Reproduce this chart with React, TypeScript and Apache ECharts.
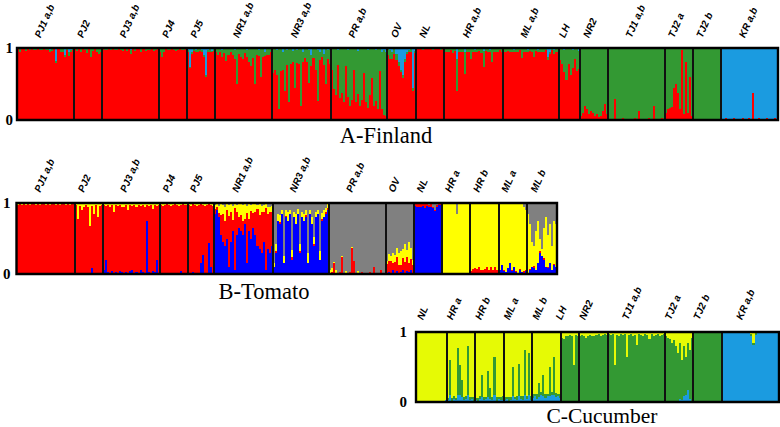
import React, { useEffect, useRef } from "react";
import * as echarts from "echarts";

// ---------- Panel A: Finland (clusters: 0 red, 1 green, 2 blue) ----------
const finlandGroups = ["PJ1 a,b", "PJ2", "PJ3 a,b", "PJ4", "PJ5", "NR1 a,b", "NR3 a,b", "PR a,b", "OV", "NL", "HR a,b", "ML a,b", "LH", "NR2", "TJ1 a,b", "TJ2 a", "TJ2 b", "KR a,b"];
const finlandSizes = [28, 14, 28, 14, 14, 28, 29, 28, 14, 14, 29, 28, 10, 14, 28, 14, 14, 28];
const finlandMain = [0, 0, 0, 0, 0, 0, 0, 0, 0, 0, 0, 0, 0, 1, 1, 1, 1, 2];
const finlandColors = ["#ff0000", "#339933", "#1b9be0"];
const finlandMix: [number, number, number[]][] = [
  [0, 1, [0.02, 0.03, 0.01, 0.02, 0.03, 0.02, 0.01, 0.02, 0.03, 0.02, 0.02, 0.01, 0.03, 0.02, 0.02, 0.03, 0.02, 0.04, 0.02, 0.03, 0.02, 0.03, 0.05, 0.02, 0.03, 0.06, 0.02, 0.03]],
  [0, 2, [0, 0.02, 0, 0, 0.01, 0, 0.02, 0, 0, 0.01, 0, 0.02, 0, 0, 0.01, 0, 0.03, 0, 0, 0.18, 0, 0.02, 0, 0.1, 0, 0.05, 0.03, 0]],
  [1, 1, [0.02, 0.03, 0.02, 0.04, 0.02, 0.03, 0.05, 0.02, 0.13, 0.03, 0.02, 0.04, 0.08, 0.03]],
  [1, 2, [0, 0.01, 0, 0.02, 0, 0, 0.02, 0, 0, 0.01, 0, 0.02, 0, 0.02]],
  [2, 1, [0.02, 0.02, 0.03, 0.02, 0.01, 0.02, 0.03, 0.02, 0.02, 0.03, 0.02, 0.02, 0.04, 0.02, 0.06, 0.02, 0.03, 0.02, 0.02, 0.03, 0.02, 0.04, 0.02, 0.03, 0.02, 0.02, 0.03, 0.02]],
  [2, 2, [0, 0.01, 0, 0, 0.02, 0, 0, 0.01, 0, 0, 0.02, 0, 0, 0, 0.03, 0, 0.01, 0, 0, 0.02, 0, 0, 0.01, 0, 0, 0.02, 0, 0]],
  [3, 1, [0.03, 0.12, 0.03, 0.02, 0.03, 0.02, 0.02, 0.03, 0.02, 0.03, 0.02, 0.02, 0.03, 0.02]],
  [3, 2, [0.02, 0, 0.02, 0, 0, 0.01, 0, 0, 0.02, 0, 0, 0.01, 0, 0]],
  [4, 1, [0.02, 0.02, 0.03, 0.02, 0.02, 0.03, 0.02, 0.02, 0.03, 0.02, 0.02, 0.03, 0.02, 0.02]],
  [4, 2, [0.03, 0.26, 0.05, 0.02, 0.03, 0.02, 0.02, 0.03, 0.1, 0.38, 0.03, 0.02, 0.04, 0.02]],
  [5, 1, [0.05, 0.08, 0.06, 0.1, 0.07, 0.18, 0.08, 0.06, 0.1, 0.12, 0.5, 0.08, 0.1, 0.15, 0.07, 0.1, 0.2, 0.25, 0.12, 0.5, 0.1, 0.08, 0.4, 0.12, 0.06, 0.1, 0.08, 0.05]],
  [5, 2, [0, 0.02, 0, 0.03, 0, 0, 0.02, 0, 0, 0.03, 0, 0, 0.02, 0, 0, 0.03, 0, 0, 0.02, 0, 0, 0.03, 0, 0, 0.05, 0, 0.02, 0]],
  [6, 1, [0.33, 0.3, 0.35, 0.85, 0.3, 0.25, 0.6, 0.2, 0.75, 0.2, 0.15, 0.55, 0.18, 0.2, 0.8, 0.15, 0.12, 0.2, 0.45, 0.15, 0.12, 0.3, 0.7, 0.12, 0.1, 0.15, 0.5, 0.12, 0.2]],
  [6, 2, [0.02, 0, 0.03, 0, 0.02, 0.05, 0, 0.03, 0, 0.02, 0.04, 0, 0.03, 0.02, 0, 0.05, 0.02, 0, 0.03, 0.1, 0.02, 0, 0.03, 0.05, 0.02, 0.08, 0, 0.03, 0.02]],
  [7, 1, [0.3, 0.55, 0.65, 0.2, 0.7, 0.6, 0.75, 0.25, 0.65, 0.8, 0.7, 0.3, 0.75, 0.6, 0.8, 0.7, 0.35, 0.75, 0.8, 0.65, 0.4, 0.8, 0.7, 0.85, 0.3, 0.8, 0.9, 0.88]],
  [7, 2, [0, 0.02, 0, 0.03, 0, 0.02, 0, 0, 0.03, 0, 0.02, 0, 0, 0.04, 0, 0.02, 0, 0, 0.03, 0, 0.02, 0, 0.03, 0, 0.02, 0.05, 0.03, 0.06]],
  [8, 1, [0.08, 0.12, 0.1, 0.06, 0.08, 0.05, 0.04, 0.03, 0.05, 0.03, 0.02, 0.03, 0.05, 0.03]],
  [8, 2, [0.02, 0.03, 0.05, 0.02, 0.08, 0.2, 0.3, 0.38, 0.15, 0.05, 0.03, 0.02, 0.55, 0.04]],
  [9, 1, [0.02, 0.01, 0.02, 0.03, 0.01, 0.02, 0.02, 0.01, 0.03, 0.02, 0.01, 0.02, 0.03, 0.02]],
  [10, 1, [0.05, 0.04, 0.06, 0.03, 0.05, 0.04, 0.45, 0.05, 0.04, 0.06, 0.3, 0.05, 0.04, 0.15, 0.05, 0.03, 0.06, 0.04, 0.05, 0.22, 0.04, 0.05, 0.03, 0.18, 0.05, 0.04, 0.06, 0.03, 0.04]],
  [10, 2, [0, 0.02, 0, 0, 0.02, 0, 0.15, 0, 0.02, 0, 0.06, 0, 0.02, 0, 0, 0.03, 0, 0, 0.02, 0.04, 0, 0, 0.03, 0.02, 0, 0.02, 0, 0, 0.02]],
  [11, 1, [0.04, 0.05, 0.03, 0.04, 0.06, 0.03, 0.05, 0.04, 0.03, 0.14, 0.04, 0.05, 0.03, 0.04, 0.06, 0.1, 0.04, 0.03, 0.05, 0.04, 0.06, 0.03, 0.05, 0.04, 0.03, 0.05, 0.04, 0.06]],
  [11, 2, [0.02, 0, 0.01, 0.02, 0, 0.03, 0, 0.02, 0, 0, 0.02, 0, 0.03, 0, 0, 0.02, 0, 0.03, 0, 0.02, 0, 0, 0.12, 0.05, 0, 0.03, 0.02, 0]],
  [12, 1, [0.15, 0.22, 0.3, 0.44, 0.2, 0.38, 0.25, 0.15, 0.3, 0.25]],
  [12, 2, [0.02, 0, 0.03, 0, 0.02, 0, 0.03, 0, 0.02, 0.04]],
  [13, 0, [0.05, 0.1, 0.2, 0.15, 0.08, 0.12, 0.1, 0.06, 0.08, 0.04, 0.06, 0.12, 0.22, 0.08]],
  [14, 0, [0.02, 0.02, 0.01, 0.29, 0.02, 0.01, 0.02, 0.03, 0.01, 0.02, 0.02, 0.01, 0.02, 0.03, 0.02, 0.13, 0.02, 0.01, 0.02, 0.02, 0.03, 0.01, 0.2, 0.02, 0.01, 0.02, 0.03, 0.02]],
  [15, 0, [0.1, 0.15, 0.17, 0.18, 0.45, 0.5, 0.38, 0.15, 0.97, 0.08, 0.8, 0.1, 0.6, 0.06]],
  [16, 0, [0.02, 0.01, 0.02, 0.01, 0.02, 0.01, 0.02, 0.01, 0.02, 0.01, 0.02, 0.02, 0.01, 0.02]],
  [17, 0, [0.02, 0.01, 0.03, 0.01, 0.02, 0.01, 0.03, 0.02, 0.01, 0.02, 0.03, 0.01, 0.02, 0.03, 0.01, 0.38, 0.02, 0.01, 0.03, 0.02, 0.01, 0.02, 0.03, 0.01, 0.02, 0.01, 0.03, 0.02]],
];

// ---------- Panel B: Tomato (clusters: 0 blue, 1 red, 2 yellow, 3 grey) ----------
const tomatoGroups = ["PJ1 a,b", "PJ2", "PJ3 a,b", "PJ4", "PJ5", "NR1 a,b", "NR3 a,b", "PR a,b", "OV", "NL", "HR a", "HR b", "ML a", "ML b"];
const tomatoSizes = [29, 14, 28, 14, 13, 29, 28, 28, 14, 14, 14, 14, 14, 15];
const tomatoMain = [1, 1, 1, 1, 1, 1, 3, 3, 3, 0, 2, 2, 2, 2];
const tomatoColors = ["#0000ff", "#ff0000", "#ffff00", "#808080"];
const tomatoMix: [number, number, number[]][] = [
  [0, 2, [0.03, 0.02, 0.03, 0.02, 0.03, 0.02, 0.03, 0.02, 0.02, 0.03, 0.02, 0.03, 0.02, 0.02, 0.03, 0.02, 0.03, 0.02, 0.02, 0.03, 0.02, 0.03, 0.02, 0.02, 0.03, 0.02, 0.03, 0.02, 0.02]],
  [0, 0, [0, 0.01, 0, 0, 0.01, 0, 0, 0, 0.01, 0, 0, 0, 0, 0.01, 0, 0, 0, 0.01, 0, 0, 0, 0, 0.01, 0, 0, 0, 0.01, 0, 0]],
  [1, 2, [0.03, 0.22, 0.04, 0.1, 0.05, 0.03, 0.06, 0.33, 0.04, 0.15, 0.03, 0.2, 0.04, 0.03]],
  [1, 0, [0, 0, 0, 0, 0, 0, 0, 0, 0.08, 0, 0, 0, 0, 0]],
  [2, 2, [0.03, 0.04, 0.03, 0.05, 0.03, 0.12, 0.03, 0.04, 0.03, 0.05, 0.06, 0.03, 0.1, 0.03, 0.04, 0.03, 0.05, 0.03, 0.04, 0.03, 0.05, 0.03, 0.04, 0.03, 0.08, 0.03, 0.04, 0.03]],
  [2, 0, [0.05, 0.2, 0.03, 0.02, 0.04, 0.02, 0.03, 0.02, 0.04, 0.03, 0.02, 0.03, 0.02, 0.04, 0.06, 0.02, 0.03, 0.02, 0.05, 0.03, 0.02, 0.74, 0.03, 0.02, 0.04, 0.03, 0.2, 0.02]],
  [3, 2, [0.03, 0.04, 0.03, 0.02, 0.03, 0.04, 0.03, 0.02, 0.03, 0.04, 0.03, 0.02, 0.03, 0.03]],
  [3, 0, [0, 0, 0, 0, 0, 0, 0, 0, 0, 0, 0.04, 0, 0, 0]],
  [4, 0, [0.02, 0, 0.03, 0, 0.02, 0, 0.15, 0.27, 0, 0.02, 0.43, 0.1, 0.02]],
  [4, 2, [0.03, 0.04, 0.02, 0.03, 0.04, 0.03, 0.02, 0.03, 0.04, 0.03, 0.02, 0.03, 0.04]],
  [5, 0, [0.85, 0.9, 0.8, 0.55, 0.45, 0.4, 0.5, 0.1, 0.45, 0.6, 0.05, 0.55, 0.65, 0.6, 0.55, 0.7, 0.15, 0.6, 0.5, 0.65, 0.55, 0.4, 0.35, 0.3, 0.45, 0.05, 0.35, 0.3, 0.4]],
  [5, 2, [0.05, 0.03, 0.1, 0.15, 0.12, 0.2, 0.08, 0.15, 0.1, 0.2, 0.05, 0.1, 0.18, 0.15, 0.22, 0.2, 0.1, 0.2, 0.08, 0.12, 0.1, 0.05, 0.15, 0.08, 0.1, 0.05, 0.1, 0.06, 0.08]],
  [5, 3, [0.03, 0.02, 0.04, 0.02, 0.03, 0.05, 0.02, 0.03, 0.02, 0.04, 0.02, 0.03, 0.02, 0.02, 0.03, 0.02, 0.04, 0.02, 0.03, 0.02, 0.02, 0.03, 0.02, 0.04, 0.03, 0.02, 0.05, 0.06, 0.04]],
  [6, 0, [0.1, 0.3, 0.75, 0.7, 0.85, 0.15, 0.8, 0.75, 0.85, 0.2, 0.8, 0.7, 0.85, 0.3, 0.8, 0.75, 0.8, 0.15, 0.85, 0.7, 0.4, 0.8, 0.85, 0.2, 0.75, 0.8, 0.85, 0.9]],
  [6, 2, [0.05, 0.1, 0.1, 0.1, 0.05, 0.1, 0.08, 0.12, 0.05, 0.1, 0.07, 0.15, 0.06, 0.1, 0.08, 0.1, 0.07, 0.15, 0.05, 0.1, 0.1, 0.08, 0.05, 0.12, 0.08, 0.1, 0.06, 0.05]],
  [6, 1, [0, 0.02, 0, 0.03, 0, 0, 0.02, 0, 0, 0.04, 0, 0, 0, 0.02, 0, 0, 0.03, 0, 0, 0, 0.02, 0, 0, 0, 0.03, 0, 0.02, 0.03]],
  [7, 1, [0, 0.03, 0.15, 0.02, 0, 0.03, 0.24, 0, 0.02, 0, 0.03, 0.36, 0.18, 0, 0.02, 0, 0.03, 0, 0.02, 0, 0.03, 0, 0.1, 0, 0.02, 0.06, 0, 0.02]],
  [7, 2, [0.06, 0.05, 0.02, 0.04, 0.02, 0, 0.02, 0, 0.02, 0, 0, 0.02, 0, 0, 0.02, 0, 0, 0.02, 0, 0, 0, 0.02, 0, 0, 0, 0, 0.02, 0]],
  [8, 1, [0.12, 0.15, 0.18, 0.1, 0.15, 0.2, 0.12, 0.1, 0.18, 0.15, 0.2, 0.12, 0.15, 0.1]],
  [8, 2, [0.05, 0.1, 0.08, 0.15, 0.1, 0.12, 0.18, 0.2, 0.12, 0.25, 0.1, 0.3, 0.15, 0.08]],
  [8, 0, [0.02, 0.03, 0, 0.05, 0.02, 0.04, 0, 0.03, 0.05, 0.02, 0.04, 0.03, 0.06, 0.02]],
  [9, 1, [0.03, 0.05, 0.04, 0.06, 0.03, 0.05, 0.04, 0.02, 0.03, 0.02, 0.01, 0.02, 0.01, 0.02]],
  [9, 3, [0.01, 0, 0.02, 0, 0.01, 0.02, 0, 0.03, 0.02, 0.05, 0.1, 0.03, 0.02, 0.01]],
  [10, 3, [0, 0.02, 0, 0, 0, 0, 0, 0.16, 0, 0, 0.02, 0, 0, 0]],
  [10, 1, [0.01, 0, 0.01, 0, 0.01, 0, 0.01, 0, 0.01, 0, 0.01, 0, 0.01, 0]],
  [11, 1, [0.04, 0.06, 0.08, 0.05, 0.1, 0.06, 0.04, 0.07, 0.09, 0.05, 0.08, 0.06, 0.1, 0.04]],
  [11, 0, [0, 0.01, 0, 0.02, 0, 0, 0.02, 0, 0.01, 0, 0.02, 0, 0, 0.01]],
  [12, 0, [0.05, 0.13, 0.04, 0.03, 0.08, 0.15, 0.04, 0.1, 0.03, 0.02, 0.06, 0.03, 0.02, 0.04]],
  [12, 1, [0.01, 0, 0.02, 0, 0.01, 0, 0.02, 0, 0.01, 0, 0.01, 0, 0.02, 0.01]],
  [12, 3, [0, 0, 0, 0, 0, 0, 0, 0, 0, 0, 0, 0.02, 0.05, 0.1]],
  [13, 3, [0.15, 0.3, 0.55, 0.6, 0.4, 0.25, 0.5, 0.65, 0.35, 0.2, 0.45, 0.3, 0.6, 0.25, 0.3]],
  [13, 0, [0.02, 0.05, 0.1, 0.08, 0.05, 0.15, 0.3, 0.25, 0.2, 0.1, 0.08, 0.15, 0.05, 0.12, 0.1]],
  [13, 1, [0, 0.02, 0, 0.03, 0, 0, 0.02, 0, 0.03, 0, 0.02, 0, 0, 0.02, 0]],
];

// ---------- Panel C: Cucumber (clusters: 0 blue, 1 green, 2 yellow) ----------
const cucumberGroups = ["NL", "HR a", "HR b", "ML a", "ML b", "LH", "NR2", "TJ1 a,b", "TJ2 a", "TJ2 b", "KR a,b"];
const cucumberSizes = [15, 14, 14, 14, 14, 9, 14, 28, 14, 14, 28];
const cucumberMain = [2, 2, 2, 2, 2, 1, 1, 1, 1, 1, 0];
const cucumberColors = ["#1b9be0", "#339933", "#e6fa05"];
const cucumberMix: [number, number, number[]][] = [
  [0, 0, [0.02, 0.01, 0.02, 0.01, 0.02, 0.01, 0.02, 0.01, 0.01, 0.02, 0.01, 0.02, 0.01, 0.02, 0.03]],
  [1, 1, [0.03, 0.5, 0.04, 0.05, 0.03, 0.67, 0.43, 0.25, 0.04, 0.05, 0.7, 0.04, 0.03, 0.05]],
  [1, 0, [0.03, 0.1, 0.02, 0.04, 0.03, 0.1, 0.1, 0.07, 0.03, 0.04, 0.1, 0.03, 0.04, 0.02]],
  [2, 1, [0.03, 0.04, 0.05, 0.32, 0.04, 0.03, 0.37, 0.15, 0.04, 0.55, 0.05, 0.03, 0.04, 0.05]],
  [2, 0, [0.03, 0.02, 0.04, 0.07, 0.03, 0.04, 0.07, 0.05, 0.03, 0.1, 0.02, 0.04, 0.03, 0.03]],
  [3, 1, [0.04, 0.03, 0.05, 0.04, 0.42, 0.03, 0.05, 0.47, 0.04, 0.05, 0.64, 0.04, 0.6, 0.05]],
  [3, 0, [0.03, 0.04, 0.02, 0.03, 0.08, 0.04, 0.03, 0.08, 0.05, 0.03, 0.1, 0.04, 0.1, 0.03]],
  [4, 1, [0.05, 0.04, 0.06, 0.2, 0.05, 0.3, 0.06, 0.04, 0.42, 0.05, 0.55, 0.06, 0.04, 0.05]],
  [4, 0, [0.06, 0.08, 0.05, 0.07, 0.1, 0.09, 0.06, 0.08, 0.08, 0.1, 0.1, 0.07, 0.08, 0.06]],
  [5, 2, [0.08, 0.1, 0.06, 0.05, 0.04, 0.05, 0.47, 0.04, 0.05]],
  [6, 2, [0.05, 0.04, 0.06, 0.09, 0.05, 0.04, 0.06, 0.05, 0.04, 0.03, 0.05, 0.04, 0.03, 0.04]],
  [7, 2, [0.03, 0.04, 0.03, 0.47, 0.04, 0.05, 0.03, 0.04, 0.03, 0.35, 0.04, 0.03, 0.05, 0.04, 0.18, 0.03, 0.04, 0.05, 0.03, 0.04, 0.1, 0.03, 0.05, 0.04, 0.03, 0.06, 0.04, 0.03]],
  [8, 2, [0.05, 0.08, 0.1, 0.15, 0.12, 0.2, 0.3, 0.15, 0.4, 0.2, 0.35, 0.15, 0.25, 0.08]],
  [8, 0, [0, 0, 0, 0, 0, 0, 0, 0.05, 0.03, 0.08, 0.1, 0.17, 0.05, 0.02]],
  [9, 2, [0.01, 0, 0.01, 0, 0.01, 0, 0.01, 0, 0.01, 0, 0.01, 0, 0.01, 0]],
  [10, 2, [0.01, 0.02, 0.01, 0.01, 0.02, 0.01, 0.01, 0.02, 0.01, 0.01, 0.02, 0.01, 0.01, 0.02, 0.03, 0.15, 0.02, 0.01, 0.01, 0.02, 0.01, 0.01, 0.02, 0.01, 0.01, 0.02, 0.01, 0.01]],
  [10, 1, [0, 0, 0, 0, 0, 0, 0, 0, 0, 0, 0, 0, 0, 0, 0.02, 0.03, 0.02, 0, 0, 0, 0, 0, 0, 0, 0, 0, 0, 0]],
];

const panelTitles = ["A-Finland", "B-Tomato", "C-Cucumber"];
const yTickLabels = ["0", "1"];

function buildRows(sizes: number[], main: number[], mix: [number, number, number[]][], k: number) {
  const rows: number[][] = [];
  let idx = 0;
  sizes.forEach((n, g) => {
    for (let i = 0; i < n; i++) {
      const p = new Array(k).fill(0);
      mix.forEach(([mg, c, vals]) => {
        if (mg === g) p[c] = vals[i] ?? 0;
      });
      let others = 0;
      p.forEach((v, c) => {
        if (c !== main[g]) others += v;
      });
      p[main[g]] = Math.max(0, 1 - others);
      rows.push([idx, ...p]);
      idx++;
    }
  });
  return rows;
}

function cumulative(sizes: number[]) {
  const out: number[] = [0];
  sizes.forEach((s) => out.push(out[out.length - 1] + s));
  return out;
}

const SERIF = "Liberation Serif, Times New Roman, serif";
const SANS = "Liberation Sans, Arial, sans-serif";

export default function App() {
  const ref = useRef<HTMLDivElement>(null);

  useEffect(() => {
    if (!ref.current) return;
    const chart = echarts.init(ref.current, null, { renderer: "svg" });

    const panels = [
      { groups: finlandGroups, sizes: finlandSizes, main: finlandMain, colors: finlandColors, mix: finlandMix,
        grid: { left: 17, top: 48, width: 761, height: 72 }, labelDx: -3.5, labelDy: -9, yMargin: 4 },
      { groups: tomatoGroups, sizes: tomatoSizes, main: tomatoMain, colors: tomatoColors, mix: tomatoMix,
        grid: { left: 14, top: 203, width: 543, height: 71 }, labelDx: -4, labelDy: -9.5, yMargin: 6 },
      { groups: cucumberGroups, sizes: cucumberSizes, main: cucumberMain, colors: cucumberColors, mix: cucumberMix,
        grid: { left: 416, top: 332, width: 363, height: 70 }, labelDx: -7, labelDy: -11, yMargin: 9 },
    ];

    const grids: any[] = [];
    const xAxes: any[] = [];
    const yAxes: any[] = [];
    const series: any[] = [];
    const cums: number[][] = [];

    panels.forEach((p, pi) => {
      const k = p.colors.length;
      const rows = buildRows(p.sizes, p.main, p.mix, k);
      const cum = cumulative(p.sizes);
      cums.push(cum);
      const N = cum[cum.length - 1];
      grids.push({ ...p.grid, containLabel: false, show: false });
      xAxes.push({ type: "value", gridIndex: pi, min: 0, max: N, show: false });
      yAxes.push({
        type: "value", gridIndex: pi, min: 0, max: 1, interval: 1,
        axisLine: { show: false }, axisTick: { show: false }, splitLine: { show: false },
        axisLabel: {
          margin: p.yMargin, color: "#000", fontSize: 15, fontWeight: "bold",
          fontFamily: SERIF,
          formatter: (v: number) => yTickLabels[v],
        },
      });

      const colors = p.colors;
      series.push({
        type: "custom", name: panelTitles[pi] + " ancestry", xAxisIndex: pi, yAxisIndex: pi,
        silent: true, clip: false,
        dimensions: ["ind", ...colors.map((_, c) => "k" + c)],
        encode: { x: 0, y: 1 },
        data: rows,
        renderItem: (params: any, api: any) => {
          const i = api.value(0);
          const x0 = Math.round(api.coord([i, 0])[0]);
          const x1 = Math.round(api.coord([i + 1, 0])[0]);
          const children: any[] = [];
          let c0 = 0;
          for (let c = 0; c < k; c++) {
            const v = api.value(c + 1);
            const yb = Math.round(api.coord([i, c0])[1]);
            const yt = Math.round(api.coord([i, Math.min(1, c0 + v)])[1]);
            if (yb - yt > 0) {
              children.push({
                type: "rect",
                shape: { x: x0, y: yt, width: x1 - x0, height: yb - yt },
                style: { fill: colors[c] },
              });
            }
            c0 += v;
          }
          return { type: "group", children };
        },
      });

      // group separators
      series.push({
        type: "custom", xAxisIndex: pi, yAxisIndex: pi, silent: true, clip: false,
        data: cum.slice(1, -1).map((b) => [b]),
        encode: { x: 0 },
        renderItem: (params: any, api: any) => {
          const b = api.value(0);
          const a = api.coord([b, 0]);
          const t = api.coord([b, 1]);
          const x = Math.round(a[0]);
          return { type: "line", shape: { x1: x, y1: a[1], x2: x, y2: t[1] }, style: { stroke: "#111", lineWidth: 2 } };
        },
      });

      // frame
      series.push({
        type: "custom", xAxisIndex: pi, yAxisIndex: pi, silent: true, clip: false,
        data: [[0, N]],
        encode: { x: 0 },
        renderItem: (params: any, api: any) => {
          const tl = api.coord([api.value(0), 1]);
          const br = api.coord([api.value(1), 0]);
          return {
            type: "rect",
            shape: { x: tl[0], y: tl[1], width: br[0] - tl[0], height: br[1] - tl[1] },
            style: { fill: "none", stroke: "#000", lineWidth: 2.4 },
          };
        },
      });
    });

    chart.setOption({
      animation: false,
      backgroundColor: "#ffffff",
      grid: grids,
      xAxis: xAxes,
      yAxis: yAxes,
      series,
    });

    // group labels, placed through each panel's own scales
    const graphics: any[] = [];
    panels.forEach((p, pi) => {
      const cum = cums[pi];
      p.sizes.forEach((s, g) => {
        const pt = chart.convertToPixel({ gridIndex: pi } as any, [cum[g] + s / 2, 1]) as number[];
        graphics.push({
          type: "text",
          x: pt[0] + p.labelDx,
          y: pt[1] + p.labelDy,
          rotation: (66 * Math.PI) / 180,
          silent: true,
          style: {
            text: p.groups[g],
            fill: "#000",
            fontSize: 10,
            fontWeight: "bold",
            fontStyle: "italic",
            fontFamily: SANS,
            align: "left",
            verticalAlign: "bottom",
          },
        });
      });
    });

    const titleStyle = { fill: "#000", fontSize: 22.5, fontFamily: SERIF, align: "center", verticalAlign: "middle" };
    graphics.push(
      { type: "text", x: 386, y: 135, silent: true, style: { ...titleStyle, text: panelTitles[0] } },
      { type: "text", x: 264, y: 291, silent: true, style: { ...titleStyle, text: panelTitles[1] } },
      { type: "text", x: 602, y: 416, silent: true, style: { ...titleStyle, fontSize: 21.5, text: panelTitles[2] } },
    );
    chart.setOption({ graphic: graphics });

    return () => chart.dispose();
  }, []);

  return <div ref={ref} style={{ position: "absolute", left: 0, top: 0, width: 780, height: 427, background: "#fff" }} />;
}
